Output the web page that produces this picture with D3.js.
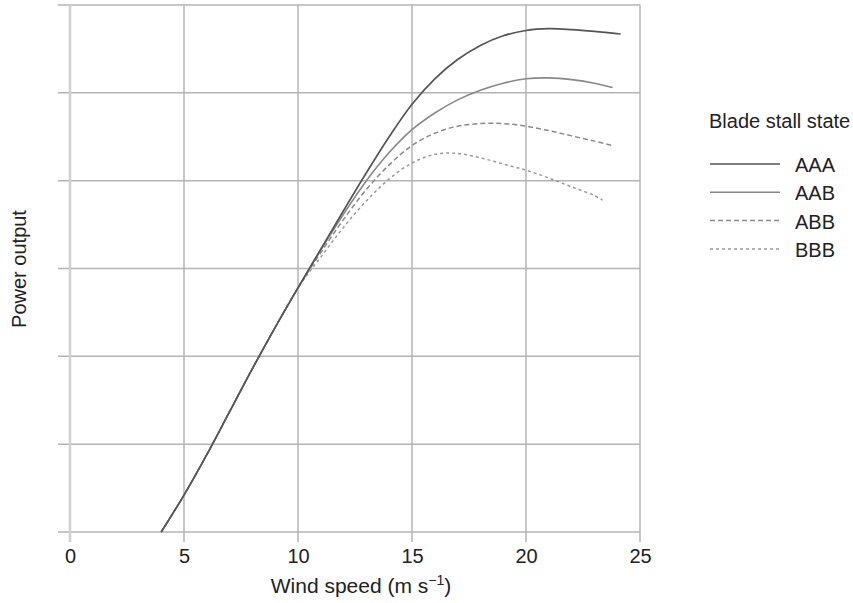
<!DOCTYPE html>
<html>
<head>
<meta charset="utf-8">
<script src="https://cdn.jsdelivr.net/npm/d3@7"></script>
<style>
  html, body { margin: 0; padding: 0; background: #fff; }
  svg { display: block; font-family: "Liberation Sans", Arial, sans-serif; }
</style>
</head>
<body>
<svg id="chart" width="853" height="603"></svg>
<script>
// ---- data ----
const xTicks = [0, 5, 10, 15, 20, 25];
const yGrid = [0, 1, 2, 3, 4, 5, 6];

const commonSpeed = [4, 5, 6, 7, 8, 9, 10];
const commonPower = [0, 0.42, 0.88, 1.37, 1.86, 2.33, 2.78];

const aaaSpeed = [11, 12, 13, 14, 15, 16, 17, 18, 19, 20, 21, 22, 23, 24.15];
const aaaPower = [3.22, 3.66, 4.09, 4.5, 4.87, 5.16, 5.38, 5.54, 5.65, 5.71, 5.73, 5.72, 5.70, 5.67];

const aabSpeed = [11, 12, 13, 14, 15, 16, 17, 18, 19, 20, 21, 22, 23, 23.8];
const aabPower = [3.21, 3.62, 4.0, 4.32, 4.58, 4.77, 4.92, 5.03, 5.11, 5.16, 5.17, 5.15, 5.11, 5.06];

const abbSpeed = [11, 12, 13, 14, 15, 16, 17, 18, 19, 20, 21, 22, 23, 23.8];
const abbPower = [3.18, 3.56, 3.9, 4.18, 4.4, 4.54, 4.62, 4.65, 4.65, 4.62, 4.57, 4.51, 4.45, 4.40];

const bbbSpeed = [11, 12, 13, 14, 15, 16, 17, 18, 19, 20, 21, 22, 23, 23.35];
const bbbPower = [3.13, 3.47, 3.77, 4.02, 4.2, 4.3, 4.31, 4.26, 4.19, 4.12, 4.03, 3.93, 3.83, 3.78];

const seriesNames = ["AAA", "AAB", "ABB", "BBB"];

// ---- styles ----
const styles = {
  AAA: { color: "#555555", width: 1.7, dash: null },
  AAB: { color: "#888888", width: 1.6, dash: null },
  ABB: { color: "#8a8a8a", width: 1.5, dash: "5,3" },
  BBB: { color: "#9a9a9a", width: 1.5, dash: "3,3" }
};

function build(speeds, powers) {
  const pts = commonSpeed.map((s, i) => [s, commonPower[i]]);
  speeds.forEach((s, i) => pts.push([s, powers[i]]));
  return pts;
}
const series = {
  AAA: build(aaaSpeed, aaaPower),
  AAB: build(aabSpeed, aabPower),
  ABB: build(abbSpeed, abbPower),
  BBB: build(bbbSpeed, bbbPower)
};

const svg = d3.select("#chart");
const x = d3.scaleLinear().domain([0, 25]).range([70, 640]);
const y = d3.scaleLinear().domain([0, 6]).range([532, 5]);

const gridColor = "#b4b4b4";

// horizontal grid lines (extend left past axis)
svg.append("g")
  .selectAll("line")
  .data(yGrid)
  .join("line")
  .attr("x1", x(0) - 12)
  .attr("x2", x(25))
  .attr("y1", d => y(d))
  .attr("y2", d => y(d))
  .attr("stroke", gridColor)
  .attr("stroke-width", 1.5);

// vertical grid lines (extend below axis)
svg.append("g")
  .selectAll("line")
  .data(xTicks)
  .join("line")
  .attr("x1", d => x(d))
  .attr("x2", d => x(d))
  .attr("y1", y(6))
  .attr("y2", y(0) + 10)
  .attr("stroke", d => d === 0 ? "#d0d0d0" : gridColor)
  .attr("stroke-width", d => d === 0 ? 2.5 : 1.5);

// x axis tick labels
const xAxis = d3.axisBottom(x).tickValues(xTicks).tickSize(0).tickPadding(0);
const gx = svg.append("g").attr("transform", `translate(0,${y(0) + 31})`).call(xAxis);
gx.select(".domain").remove();
gx.selectAll("text")
  .attr("dy", 0)
  .attr("y", 0)
  .attr("fill", "#222")
  .style("font-size", "20px")
  .style("font-family", "Liberation Sans, Arial, sans-serif");

// axis titles
const xt = svg.append("text")
  .attr("x", 361)
  .attr("y", 593)
  .attr("text-anchor", "middle")
  .attr("fill", "#222")
  .style("font-size", "21px");
xt.append("tspan").text("Wind speed (m s");
xt.append("tspan").attr("dy", -8).style("font-size", "14px").text("\u22121");
xt.append("tspan").attr("dy", 8).text(")");

svg.append("text")
  .attr("transform", "translate(26,269) rotate(-90)")
  .attr("text-anchor", "middle")
  .attr("fill", "#222")
  .style("font-size", "20px")
  .text("Power output");

// curves
const line = d3.line()
  .x(d => x(d[0]))
  .y(d => y(d[1]))
  .curve(d3.curveCatmullRom.alpha(0.5));

seriesNames.slice().reverse().forEach(name => {
  const st = styles[name];
  svg.append("path")
    .datum(series[name])
    .attr("d", line)
    .attr("fill", "none")
    .attr("stroke", st.color)
    .attr("stroke-width", st.width)
    .attr("stroke-dasharray", st.dash);
});

// legend
svg.append("text")
  .attr("x", 709)
  .attr("y", 128)
  .attr("fill", "#222")
  .style("font-size", "20px")
  .text("Blade stall state");

const lg = svg.append("g")
  .selectAll("g")
  .data(seriesNames)
  .join("g")
  .attr("transform", (d, i) => `translate(0,${164 + i * 28.3})`);
lg.append("line")
  .attr("x1", 710).attr("x2", 780)
  .attr("y1", 0).attr("y2", 0)
  .attr("stroke", d => styles[d].color)
  .attr("stroke-width", d => styles[d].width)
  .attr("stroke-dasharray", d => styles[d].dash);
lg.append("text")
  .attr("x", 795)
  .attr("y", 8)
  .attr("fill", "#222")
  .style("font-size", "20px")
  .text(d => d);
</script>
</body>
</html>
